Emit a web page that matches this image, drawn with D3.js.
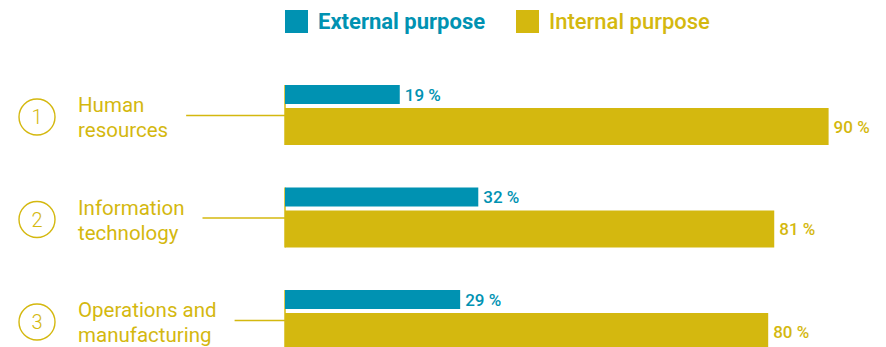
<!DOCTYPE html>
<html>
<head>
<meta charset="utf-8">
<script src="https://cdn.jsdelivr.net/npm/d3@7"></script>
<style>
  html, body { margin: 0; padding: 0; background: #fff; }
  svg { display: block; }
</style>
</head>
<body>
<svg id="chart" width="886" height="347"></svg>
<script>
// Share of companies by area, split by purpose
const categories = ["Human resources", "Information technology", "Operations and manufacturing"];
const categoryLines = [["Human", "resources"], ["Information", "technology"], ["Operations and", "manufacturing"]];
const seriesNames = ["External purpose", "Internal purpose"];
const externalValues = [19, 32, 29];
const internalValues = [90, 81, 80];

const TEAL = "#0092b2";
const GOLD = "#d4b80f";
const FONT = "Roboto, 'Open Sans', sans-serif";

const svg = d3.select("#chart");

const x = d3.scaleLinear().domain([0, 100]).range([285, 889]);
const y = d3.scaleBand().domain(categories).range([85, 85 + 102.5 * categories.length]);

const tealH = 19, goldGap = 4, goldH = 37;

// Legend
const legend = svg.append("g").attr("class", "legend");
const legendItems = [
  { name: seriesNames[0], color: TEAL, x: 285, weight: 700 },
  { name: seriesNames[1], color: GOLD, x: 516, weight: 500 }
];
legendItems.forEach(it => {
  legend.append("rect").attr("x", it.x).attr("y", 10).attr("width", 23).attr("height", 23).attr("fill", it.color);
  legend.append("text").attr("x", it.x + 33).attr("y", 28.5)
    .attr("font-family", FONT).attr("font-size", 22).attr("font-weight", it.weight)
    .attr("fill", it.color).text(it.name);
});

const groups = svg.selectAll("g.group")
  .data(categories.map((c, i) => ({ c, i, ext: externalValues[i], int: internalValues[i], lines: categoryLines[i] })))
  .join("g").attr("class", "group");

// Numbered circle
groups.append("circle")
  .attr("cx", 37).attr("cy", d => y(d.c) + 32).attr("r", 18)
  .attr("fill", "none").attr("stroke", GOLD).attr("stroke-width", 1.4);
groups.append("text")
  .attr("x", 37).attr("y", d => y(d.c) + 39)
  .attr("text-anchor", "middle").attr("font-family", FONT).attr("font-size", 20).attr("font-weight", 300)
  .attr("fill", GOLD).text(d => d.i + 1);

// Category label
const labels = groups.append("text")
  .attr("font-family", FONT).attr("font-size", 20.5).attr("font-weight", 400).attr("fill", GOLD);
labels.each(function(d) {
  d3.select(this).selectAll("tspan").data(d.lines).join("tspan")
    .attr("x", 78).attr("y", (l, j) => y(d.c) + 27 + j * 25).text(l => l);
});

// Connector line from label to bars
groups.each(function(d) {
  const g = d3.select(this);
  const bb = g.select("text:nth-of-type(2)").node().getBBox();
  g.insert("line", ":first-child")
    .attr("x1", bb.x + bb.width + 18).attr("x2", x(0))
    .attr("y1", y(d.c) + 30.5).attr("y2", y(d.c) + 30.5)
    .attr("stroke", GOLD).attr("stroke-width", 1.4);
});

// Axis stub joining the two bars
groups.append("line")
  .attr("x1", x(0)).attr("x2", x(0))
  .attr("y1", d => y(d.c)).attr("y2", d => y(d.c) + tealH + goldGap + goldH)
  .attr("stroke", GOLD).attr("stroke-width", 1.5);

// Bars
groups.append("rect")
  .attr("x", x(0)).attr("y", d => y(d.c))
  .attr("width", d => x(d.ext) - x(0)).attr("height", tealH).attr("fill", TEAL);
groups.append("rect")
  .attr("x", x(0)).attr("y", d => y(d.c) + tealH + goldGap)
  .attr("width", d => x(d.int) - x(0)).attr("height", goldH).attr("fill", GOLD);

// Value labels
groups.append("text")
  .attr("x", d => x(d.ext) + 5).attr("y", d => y(d.c) + tealH / 2 + 6)
  .attr("font-family", FONT).attr("font-size", 17).attr("font-weight", 500)
  .attr("fill", TEAL).text(d => d.ext + " %");
groups.append("text")
  .attr("x", d => x(d.int) + 5).attr("y", d => y(d.c) + tealH + goldGap + goldH / 2 + 6)
  .attr("font-family", FONT).attr("font-size", 17).attr("font-weight", 500)
  .attr("fill", GOLD).text(d => d.int + " %");
</script>
</body>
</html>
